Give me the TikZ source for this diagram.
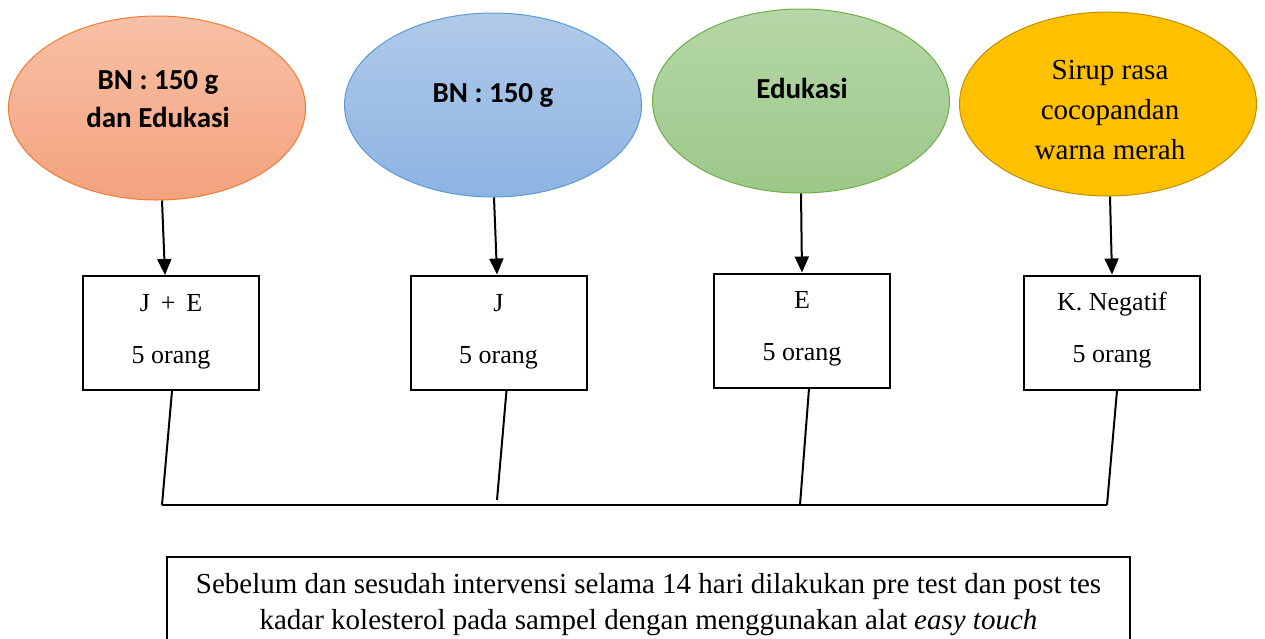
\documentclass[tikz,border=0pt]{standalone}
\usepackage{fontspec}
\setmainfont{Liberation Serif}
\newfontfamily\calfont{Carlito}
\usetikzlibrary{shapes.geometric,arrows.meta}
\tikzset{
  oval/.style={ellipse, minimum width=297pt, minimum height=184pt, inner sep=0pt, line width=1pt},
  ovaltxt/.style={font=\calfont\bfseries\fontsize{29}{38}\selectfont, align=center, inner sep=0pt},
  serif/.style={font=\fontsize{26}{52}\selectfont, align=center, inner sep=0pt},
  grp/.style={draw, line width=2pt, minimum width=176pt, minimum height=114pt, inner sep=0pt},
  conn/.style={line width=2pt},
  arr/.style={line width=2pt, -{Triangle[length=16pt,width=14pt]}},
}
\definecolor{orB}{HTML}{ED7D31}
\definecolor{orT}{HTML}{F8C0A6}
\definecolor{orD}{HTML}{F4A27E}
\definecolor{blB}{HTML}{5B9BD5}
\definecolor{blT}{HTML}{B0CAE9}
\definecolor{blD}{HTML}{8DB3E2}
\definecolor{grB}{HTML}{70AD47}
\definecolor{grT}{HTML}{B6D7A8}
\definecolor{grD}{HTML}{9CC889}
\definecolor{yeF}{HTML}{FFC000}
\definecolor{yeB}{HTML}{BF9000}
\begin{document}
\begin{tikzpicture}[x=1pt,y=-1pt]
\useasboundingbox[fill=white] (0,0) rectangle (1265,638);
% ellipses
\node[oval, draw=orB, top color=orT, bottom color=orD] (e1) at (157,108) {};
\node[oval, draw=blB, top color=blT, bottom color=blD] (e2) at (493,105) {};
\node[oval, draw=grB, top color=grT, bottom color=grD] (e3) at (801,101) {};
\node[oval, draw=yeB, fill=yeF] (e4) at (1108,104) {};
\node[ovaltxt] (t1) at (158,99) {BN : 150 g\\dan Edukasi};
\node[ovaltxt] (t2) at (493,95) {BN : 150 g};
\node[ovaltxt] (t3) at (802,88) {Edukasi};
\node[font=\fontsize{29}{40}\selectfont, align=center, inner sep=0pt] (t4) at (1110,110) {Sirup rasa\\cocopandan\\warna merah};
% boxes
\node[grp] (b1) at (171,333) {};
\node[grp] (b2) at (498.5,332.5) {};
\node[grp] (b3) at (802,330.5) {};
\node[grp] (b4) at (1112,332.5) {};
\node[serif] (l1) at (171,332) {J \,+\, E\\5 orang};
\node[serif] (l2) at (498.5,332) {J\\5 orang};
\node[serif] (l3) at (802,329) {E\\5 orang};
\node[serif] (l4) at (1112,330) {K. Negatif\\5 orang};
% arrows
\draw[arr] ([xshift=5pt]e1.south) -- ([xshift=-6pt]b1.north);
\draw[arr] ([xshift=1pt]e2.south) -- ([xshift=-1.5pt]b2.north);
\draw[arr] ([xshift=0pt]e3.south) -- ([xshift=0pt]b3.north);
\draw[arr] ([xshift=2pt]e4.south) -- ([xshift=0pt]b4.north);
% bottom connectors
\coordinate (j1) at (162,505);
\coordinate (j2) at (497,500);
\coordinate (j3) at (800,505);
\coordinate (j4) at (1107,505);
\draw[conn] ([xshift=1pt]b1.south) -- (j1);
\draw[conn] ([xshift=8pt]b2.south) -- (j2);
\draw[conn] ([xshift=7pt]b3.south) -- (j3);
\draw[conn] ([xshift=5pt]b4.south) -- (j4);
\draw[conn] (j1) -- (j4);
% bottom box
\node[draw, line width=2pt, minimum width=963pt, minimum height=92pt, inner sep=0pt] (bb) at (648.5,603) {};
\node[font=\fontsize{29}{36}\selectfont, align=center, inner sep=0pt] (bt) at (648.5,605) {Sebelum dan sesudah intervensi selama 14 hari dilakukan pre test dan post tes\\kadar kolesterol pada sampel dengan menggunakan alat \textit{easy touch}};
\end{tikzpicture}
\end{document}
